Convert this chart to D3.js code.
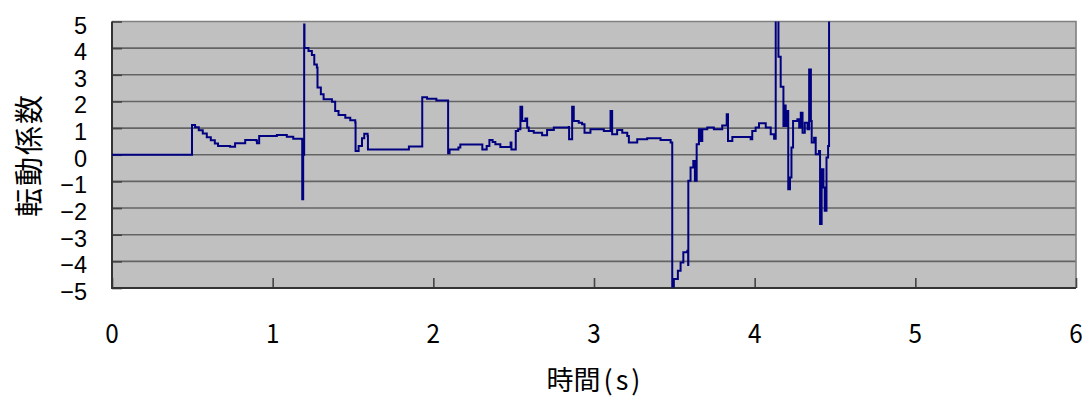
<!DOCTYPE html>
<html><head><meta charset="utf-8">
<script src="https://cdn.jsdelivr.net/npm/d3@7"></script>
<style>
html,body{margin:0;padding:0;background:#fff;}
svg{display:block;}
text{font-family:"Noto Sans CJK JP","Noto Sans",sans-serif;fill:#000;}
text.ytick{font-family:"Liberation Sans",Arial,sans-serif;}
</style></head>
<body>
<script>
const time = [0,0.497,0.498,0.517,0.540,0.565,0.590,0.615,0.640,0.660,0.735,0.766,0.829,0.900,0.902,0.916,1.026,1.088,1.128,1.182,1.184,1.190,1.196,1.198,
1.223,1.244,1.259,1.275,1.279,1.300,1.317,1.369,1.389,1.410,1.452,1.483,1.514,1.516,1.535,1.556,1.570,1.591,1.593,1.846,1.848,1.930,1.931,1.961,2.019,2.090,2.092,2.101,2.156,2.168,2.303,2.305,2.330,2.332,2.349,2.369,2.386,2.417,2.480,2.481,2.486,2.511,2.513,2.528,2.542,2.553,2.573,2.584,2.594,2.625,2.677,2.708,2.750,2.843,2.845,2.864,2.874,2.905,2.926,2.941,2.978,3.061,3.103,3.113,3.144,3.176,3.207,3.217,3.269,3.331,3.414,3.477,3.487,3.497,3.522,3.539,3.556,3.581,3.586,3.587,3.601,3.618,3.628,3.639,3.653,3.664,3.674,3.705,3.746,3.798,3.826,3.834,3.861,3.975,3.985,4.006,4.027,4.058,4.069,4.100,4.121,4.131,4.145,4.148,4.158,4.162,4.176,4.179,4.187,4.193,4.202,4.209,4.220,4.229,4.239,4.266,4.277,4.287,4.298,4.312,4.329,4.339,4.350,4.355,4.370,4.380,4.400,4.407,4.417,4.428,4.436,4.447,4.457,4.463];
const coef = [0,0,1.12,1.03,0.92,0.80,0.66,0.54,0.42,0.33,0.30,0.43,0.55,0.52,0.43,0.70,0.74,0.68,0.60,0.58,-1.67,0.0,4.89,4.01,
3.89,3.74,3.39,3.27,2.52,2.27,2.08,1.99,1.64,1.49,1.39,1.29,1.21,0.14,0.33,0.62,0.79,0.70,0.20,0.20,0.31,0.31,2.16,2.10,2.04,2.04,0.06,0.20,0.27,0.38,0.38,0.20,0.20,0.33,0.55,0.48,0.39,0.29,0.29,0.46,0.20,0.20,0.89,0.96,1.80,1.27,1.36,1.02,0.89,0.83,0.73,0.93,1.02,1.04,0.58,1.80,1.27,1.20,1.14,0.83,0.96,0.89,1.64,0.77,0.93,0.83,0.70,0.46,0.58,0.62,0.55,0.46,-4.94,-4.66,-4.35,-4.04,-3.66,-3.60,-4.14,-0.98,-0.48,-0.23,-0.98,0.39,0.96,0.52,0.96,1.02,0.96,1.10,1.52,0.52,0.67,0.58,0.89,1.02,1.18,1.18,1.02,0.77,0.60,5.3,5.3,3.68,3.68,2.55,2.55,1.08,1.85,1.08,1.64,-1.29,-0.85,0.27,1.27,1.33,1.02,1.58,0.83,1.20,0.96,3.20,1.27,0.46,0.64,0.02,0.14,-2.60,-0.54,-1.23,-2.10,-0.10,0.33,5.5];
const xTicks = [0,1,2,3,4,5,6];
const yTicks = [-5,-4,-3,-2,-1,0,1,2,3,4,5];
const xTitleMain = "時間";
const xTitleUnit = "(s)";
const yTitle = "転動係数";

const W = 1088, H = 396;
const L = 112, R = 1076, T = 21.5, B = 288;
const svg = d3.select("body").append("svg").attr("width", W).attr("height", H);
const x = d3.scaleLinear().domain([0, 6]).range([L, R]);
const y = d3.scaleLinear().domain([-5, 5]).range([B, T]);

svg.append("rect").attr("x", L).attr("y", T).attr("width", R - L).attr("height", B - T).attr("fill", "#c0c0c0");

// gridlines
svg.append("g").selectAll("line").data(yTicks.filter(d => d > -5 && d < 5)).join("line")
  .attr("x1", L).attr("x2", R).attr("y1", d => y(d)).attr("y2", d => y(d))
  .attr("stroke", "#646464").attr("stroke-width", 1.6);

// top/right border
svg.append("path").attr("d", `M${L},${T}H${R}V${B}`).attr("fill", "none").attr("stroke", "#808080").attr("stroke-width", 1.6);

// axes (inward ticks)
const yAxis = d3.axisRight(y).tickValues(yTicks).tickSize(10).tickFormat("");
svg.append("g").attr("transform", `translate(${L},0)`).call(yAxis)
  .call(g => { g.select(".domain").remove(); g.selectAll("line").attr("stroke", "#444").attr("stroke-width", 1.6); });
const xAxis = d3.axisTop(x).tickValues(xTicks).tickSize(10).tickFormat("");
svg.append("g").attr("transform", `translate(0,${B})`).call(xAxis)
  .call(g => { g.select(".domain").remove(); g.selectAll("line").attr("stroke", "#444").attr("stroke-width", 1.6); });
svg.append("path").attr("d", `M${L},${T}V${B}H${R}`).attr("fill", "none").attr("stroke", "#333").attr("stroke-width", 2);

// data line
svg.append("clipPath").attr("id", "clip").append("rect").attr("x", L).attr("y", T).attr("width", R - L).attr("height", B - T);
const pts = time.map((t, i) => [t, coef[i]]);
svg.append("path").datum(pts).attr("clip-path", "url(#clip)")
  .attr("d", d3.line().curve(d3.curveStepAfter).x(d => x(d[0])).y(d => y(d[1])))
  .attr("fill", "none").attr("stroke", "#000080").attr("stroke-width", 2).attr("stroke-linejoin", "miter");

// tick labels
const fmt = d => (d < 0 ? "\u2212" + Math.abs(d) : String(d));
svg.append("g").selectAll("text").data(yTicks).join("text")
  .attr("class", "ytick")
  .attr("transform", d => `translate(87,${y(d) + 4})`)
  .attr("text-anchor", "end").attr("dominant-baseline", "central")
  .attr("font-size", 23.5).text(fmt);
svg.append("g").selectAll("text").data(xTicks).join("text")
  .attr("transform", d => `translate(${x(d)},331) scale(0.9,1)`)
  .attr("text-anchor", "middle").attr("dominant-baseline", "central")
  .attr("font-size", 27).text(d => d);

// titles
const xt = svg.append("text").attr("x", 595).attr("y", 378).attr("text-anchor", "middle").attr("dominant-baseline", "central")
  .attr("font-size", 27);
xt.append("tspan").text(xTitleMain);
xt.append("tspan").attr("dx", 3).attr("letter-spacing", 3).text(xTitleUnit);
svg.append("text").attr("transform", "translate(27,155) rotate(-90)").attr("text-anchor", "middle").attr("dominant-baseline", "central")
  .attr("font-size", 29).attr("letter-spacing", 2).text(yTitle);
</script>
</body></html>
